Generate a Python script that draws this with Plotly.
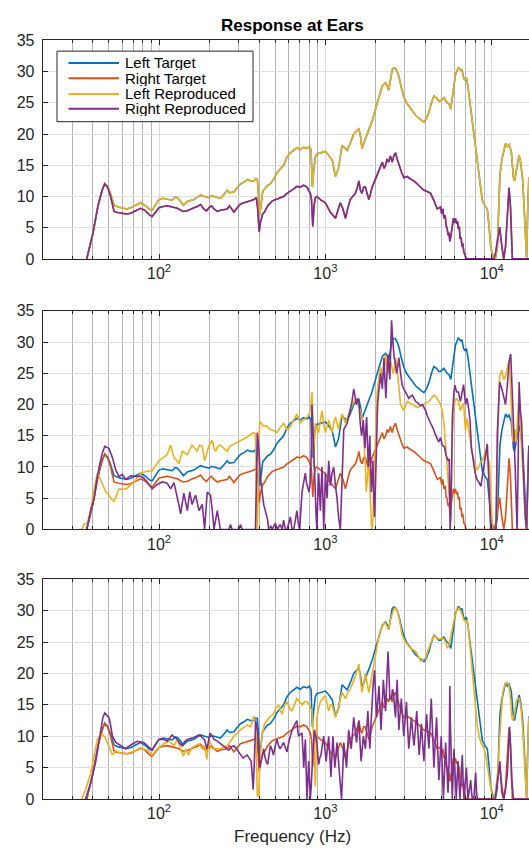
import math
import plotly.graph_objects as go

# ---------------------------------------------------------------------------
# Frequency responses at the ears, (frequency in Hz, level in dB)
# ---------------------------------------------------------------------------
left_target = [
    (36.8, 0.0), (40, 4.0), (43, 8.5), (45.5, 11.0), (47.2, 12.1), (49, 11.6), (51, 10.5),
    (53.7, 8.6), (57, 8.3), (60, 8.2), (64, 8.0), (67.6, 8.2), (72, 8.6), (77.5, 9.0),
    (82, 8.6), (88, 7.9), (91, 7.8), (96, 8.8), (100, 9.5), (106, 9.7), (112, 9.6), (120, 9.4),
    (125, 9.9), (129, 9.8), (135, 9.2), (140, 8.6), (148, 9.2), (155, 9.3), (162, 9.5),
    (170, 9.9), (178, 10.2), (188, 10.0), (200, 9.8), (207, 10.1), (214, 10.0), (224, 9.8),
    (234, 9.7), (245, 10.3), (257, 11.0), (265, 10.6), (282, 10.7), (295, 11.4), (309, 12.0),
    (324, 12.3), (339, 12.7), (355, 12.5), (372, 12.5), (382, 12.9), (390, 12.8), (396, 10.5),
    (402, 7.0), (410, 8.5), (420, 10.8), (431, 11.2), (450, 11.8), (467, 12.0), (490, 12.8),
    (512, 13.8), (535, 14.3), (561, 15.0), (588, 16.3), (616, 17.0), (645, 17.4), (674, 17.8),
    (706, 17.5), (740, 17.9), (775, 17.7), (800, 18.0), (820, 17.5), (835, 11.5), (850, 14.0),
    (870, 16.3), (890, 16.8), (933, 17.0), (1000, 17.2), (1047, 16.6), (1100, 15.8),
    (1150, 13.2), (1200, 14.5), (1260, 18.2), (1300, 17.8), (1350, 17.4), (1410, 18.5),
    (1480, 20.0), (1540, 20.5), (1590, 20.8), (1630, 19.5), (1660, 17.7), (1700, 18.5),
    (1780, 20.0), (1850, 21.0), (1910, 22.1), (2050, 25.0), (2200, 27.7), (2300, 28.2),
    (2350, 27.8), (2400, 27.0), (2460, 28.5), (2520, 30.3), (2580, 30.6), (2640, 30.5),
    (2700, 30.0), (2765, 29.2), (2860, 27.5), (2960, 26.0), (3070, 25.0), (3175, 24.5),
    (3330, 23.8), (3485, 23.0), (3700, 22.4), (3910, 21.9), (4050, 22.5), (4190, 23.5),
    (4340, 25.0), (4490, 26.1), (4650, 25.8), (4810, 25.3), (4920, 25.3), (5160, 25.8),
    (5390, 25.0), (5530, 24.8), (5670, 24.0), (5880, 27.6), (6050, 29.5), (6300, 30.7),
    (6500, 30.2), (6620, 30.3), (6770, 29.0), (6900, 28.6), (7040, 29.0), (7190, 27.6),
    (7400, 25.0), (7630, 22.4), (7900, 19.5), (8180, 16.1), (8500, 12.5), (8780, 9.3),
    (9100, 8.5), (9400, 8.0), (9650, 5.0), (9850, 2.0), (10200, 0.2), (10500, 0.0),
    (10800, 1.8), (11000, 8.0), (11200, 13.5), (11500, 15.9), (11800, 17.5), (12100, 18.5),
    (12400, 18.0), (12700, 18.3), (13100, 17.2), (13300, 15.0), (13500, 13.0), (13700, 12.5),
    (14000, 14.0), (14300, 15.5), (14600, 16.6), (14900, 15.5), (15300, 13.0), (15600, 9.0),
    (15800, 6.2), (16000, 2.0), (16200, 0.0), (16450, 8.0), (16700, 13.0), (17500, 13.0),
]

right_target = [
    (36.8, 0.0), (40, 4.0), (43, 8.5), (45.5, 11.0), (47.2, 12.0), (49, 11.5), (51, 10.2),
    (53.7, 7.6), (57, 7.4), (60, 7.3), (64, 7.2), (67.6, 7.3), (72, 7.7), (77.5, 8.1),
    (82, 7.8), (88, 7.0), (91, 6.8), (96, 7.5), (100, 8.2), (106, 8.4), (112, 8.5), (120, 8.3),
    (129, 8.1), (135, 7.8), (140, 7.6), (148, 7.7), (155, 8.0), (162, 8.2), (170, 8.4),
    (178, 8.7), (186, 8.0), (193, 7.7), (200, 8.2), (207, 8.5), (214, 8.0), (224, 7.6),
    (234, 7.8), (245, 7.9), (257, 8.0), (265, 8.5), (275, 7.9), (282, 7.5), (295, 8.2),
    (309, 8.8), (324, 9.0), (339, 9.1), (355, 9.3), (372, 9.5), (385, 9.8), (392, 8.0),
    (400, 4.3), (408, 6.0), (420, 7.2), (431, 7.5), (450, 8.5), (480, 9.3), (512, 9.6),
    (535, 9.8), (561, 10.0), (588, 10.5), (616, 10.8), (645, 11.2), (674, 11.6), (706, 11.5),
    (740, 11.8), (775, 11.5), (812, 10.5), (825, 9.5), (840, 5.2), (855, 8.5), (870, 9.8),
    (890, 10.0), (933, 9.5), (1000, 9.0), (1035, 8.2), (1070, 7.5), (1110, 7.0), (1150, 6.5),
    (1190, 7.8), (1230, 9.0), (1275, 8.0), (1320, 6.5), (1360, 8.0), (1410, 9.5), (1460, 10.0),
    (1515, 10.5), (1560, 11.5), (1590, 12.5), (1625, 11.0), (1660, 10.5), (1700, 11.5),
    (1740, 11.5), (1780, 10.5), (1825, 9.5), (1870, 10.5), (1910, 11.5), (1980, 12.5),
    (2050, 13.5), (2120, 14.5), (2200, 15.5), (2250, 14.5), (2300, 15.0), (2350, 16.0),
    (2400, 15.5), (2460, 16.5), (2520, 15.5), (2580, 16.5), (2640, 17.0), (2700, 16.0),
    (2765, 15.0), (2860, 14.0), (2960, 13.0), (3100, 13.2), (3250, 12.8), (3400, 12.5),
    (3570, 12.0), (3740, 11.5), (3910, 11.0), (4100, 10.8), (4290, 10.5), (4500, 9.3),
    (4700, 8.0), (4920, 8.3), (5000, 7.2), (5080, 8.0), (5160, 6.5), (5250, 7.0), (5320, 5.2),
    (5390, 5.0), (5460, 3.8), (5530, 4.2), (5600, 2.8), (5670, 3.5), (5740, 4.5), (5800, 5.5),
    (5880, 6.5), (5950, 5.8), (6050, 6.5), (6150, 5.6), (6230, 6.0), (6300, 4.8), (6380, 5.2),
    (6450, 3.2), (6540, 3.5), (6620, 2.0), (6700, 2.5), (6800, 1.0), (6900, 0.8), (7000, 0.0),
    (10300, 0.0), (10550, 1.0), (10800, 2.5), (11150, 5.1), (11500, 2.0), (11800, 0.0),
    (12100, 2.0), (12400, 7.0), (12700, 11.4), (12950, 8.5), (13150, 3.0), (13300, 0.0),
    (17500, 0.0),
]

# System A (middle panel)
left_reproduced_a = [
    (34.3, 0.0), (35.5, 0.9), (37, 0.9), (38.8, 3.0), (40.5, 6.0), (42.6, 9.0), (44.5, 8.0),
    (46, 7.0), (48, 6.0), (50, 5.5), (52, 4.8), (53.7, 4.5), (55.5, 5.5), (57.5, 6.5),
    (61, 6.4), (64.5, 6.6), (68, 7.2), (70.8, 7.5), (74, 8.3), (77.6, 9.0), (84, 9.3),
    (91, 9.4), (96, 10.3), (100, 11.0), (106, 11.5), (112, 12.0), (117.5, 13.5), (123, 11.5),
    (128, 11.0), (132, 10.5), (138, 12.5), (143, 12.3), (148, 12.0), (153, 12.8), (158, 13.5),
    (164, 13.0), (170, 12.5), (175, 13.5), (182, 13.3), (188, 11.0), (194, 12.5), (200, 13.5),
    (209, 14.3), (214, 13.0), (219, 12.5), (226, 13.3), (234, 13.5), (245, 13.0), (257, 12.5),
    (266, 13.3), (275, 13.5), (285, 13.8), (295, 14.0), (310, 14.2), (324, 14.5), (340, 14.8),
    (355, 15.2), (370, 15.5), (380, 15.3), (386, 8.0), (390, 0.0), (394, 5.0), (398, 14.0),
    (404, 17.3), (412, 17.0), (426, 16.5), (440, 16.6), (455, 16.2), (467, 16.0), (490, 15.8),
    (512, 15.5), (535, 16.3), (561, 17.0), (588, 16.0), (616, 16.5), (645, 17.5), (674, 18.5),
    (706, 17.0), (740, 17.5), (775, 18.0), (800, 18.5), (815, 19.5), (831, 22.0), (842, 17.0),
    (850, 10.0), (860, 14.0), (870, 17.0), (890, 16.0), (912, 15.5), (933, 17.5), (955, 19.0),
    (977, 17.0), (1000, 15.5), (1024, 16.5), (1047, 17.5), (1072, 16.5), (1097, 15.5),
    (1122, 17.0), (1150, 18.0), (1175, 17.0), (1200, 16.0), (1230, 17.5), (1260, 18.5),
    (1290, 17.8), (1320, 17.0), (1350, 17.8), (1380, 18.5), (1415, 19.3), (1450, 20.0),
    (1480, 20.5), (1515, 21.0), (1550, 20.3), (1590, 19.5), (1625, 19.0), (1660, 18.0),
    (1700, 15.0), (1740, 10.0), (1760, 6.0), (1790, 8.0), (1825, 12.0), (1850, 7.0),
    (1870, 3.0), (1890, 1.0), (1910, 0.0), (1935, 2.0), (1960, 8.0), (2000, 15.0),
    (2050, 22.0), (2100, 24.5), (2150, 26.0), (2180, 25.0), (2215, 24.0), (2260, 26.0),
    (2300, 28.0), (2340, 26.0), (2380, 25.0), (2420, 26.5), (2460, 27.0), (2510, 26.0),
    (2560, 25.0), (2600, 26.0), (2640, 27.5), (2690, 26.0), (2730, 24.0), (2780, 22.0),
    (2830, 20.0), (2900, 19.5), (2960, 19.0), (3030, 19.8), (3100, 20.5), (3200, 20.3),
    (3330, 20.0), (3450, 19.8), (3570, 19.5), (3740, 19.8), (3910, 20.0), (4050, 20.3),
    (4190, 20.5), (4340, 21.0), (4490, 21.5), (4600, 21.3), (4700, 21.0), (4810, 20.5),
    (4930, 20.0), (5040, 19.0), (5160, 17.0), (5200, 15.8), (5300, 13.5), (5390, 11.0),
    (5530, 6.0), (5670, 2.0), (5740, 8.0), (5800, 15.0), (5900, 19.0), (6000, 20.5),
    (6150, 21.0), (6300, 20.5), (6480, 19.0), (6620, 19.8), (6770, 20.2), (6950, 15.8),
    (7100, 17.8), (7250, 16.0), (7400, 14.0), (7600, 12.5), (7750, 11.5), (8000, 10.0),
    (8180, 9.5), (8400, 10.2), (8600, 10.8), (8780, 11.0), (9000, 11.8), (9200, 12.7),
    (9450, 11.5), (9700, 10.5), (9900, 5.0), (10100, 0.0), (10600, 0.0), (10700, 6.0),
    (10800, 12.0), (11000, 20.0), (11150, 24.5), (11500, 25.5), (11800, 24.0), (12100, 24.5),
    (12400, 26.0), (12700, 27.0), (12900, 24.0), (13100, 18.5), (13400, 14.0), (13800, 16.0),
    (14050, 14.0), (14300, 18.0), (14600, 22.0), (14850, 17.0), (15100, 13.5), (15350, 9.0),
    (15600, 5.0), (15900, 2.0), (16200, 0.0), (16450, 7.0), (16700, 13.4), (17500, 12.0),
]

right_reproduced_a = [
    (36.8, 0.0), (38.8, 3.0), (40.8, 5.0), (42, 7.5), (43.7, 10.0), (45.7, 12.3), (47.2, 13.3),
    (50, 13.0), (52.5, 11.5), (55, 9.5), (57.5, 8.5), (60.3, 8.8), (63, 8.0), (67.6, 8.6),
    (72.4, 8.5), (77.6, 8.5), (81, 8.2), (85, 7.6), (91, 6.5), (97.7, 7.2), (104.7, 7.6),
    (112, 7.4), (117.5, 6.5), (123, 7.5), (129, 5.0), (135, 2.5), (141, 5.8), (148, 3.0),
    (153, 6.0), (158, 4.0), (166, 5.5), (174, 3.0), (182, 4.0), (188, 0.0), (195, 6.0),
    (204, 5.5), (209, 3.0), (214, 0.0), (224, 3.0), (234, 0.0), (263, 0.0), (269, 0.8),
    (275, 0.0), (302, 0.0), (309, 0.8), (316, 0.0), (380, 0.0), (386, 8.0), (390, 15.5),
    (398, 13.0), (408, 8.0), (426, 4.0), (440, 2.5), (450, 1.5), (456, 0.0), (470, 0.5),
    (480, 0.0), (500, 1.0), (515, 0.0), (535, 0.8), (550, 0.0), (561, 1.5), (575, 0.0),
    (588, 0.0), (602, 1.0), (616, 2.0), (630, 0.0), (645, 0.0), (660, 1.5), (674, 3.0),
    (688, 1.0), (700, 0.0), (712, 3.0), (724, 6.0), (740, 7.5), (758, 9.0), (770, 7.5),
    (783, 6.5), (797, 6.0), (812, 7.5), (822, 12.0), (831, 20.0), (840, 17.0), (850, 15.0),
    (860, 10.0), (870, 6.0), (880, 2.0), (890, 0.0), (900, 5.0), (912, 9.0), (922, 6.0),
    (933, 3.0), (944, 7.0), (955, 10.0), (966, 5.0), (977, 0.0), (988, 4.0), (1000, 9.0),
    (1012, 7.0), (1024, 5.0), (1035, 8.0), (1047, 11.0), (1060, 9.0), (1072, 7.0),
    (1097, 9.0), (1122, 10.0), (1150, 7.0), (1175, 5.0), (1200, 2.0), (1230, 0.0),
    (1245, 4.0), (1260, 8.0), (1275, 12.0), (1290, 16.0), (1320, 16.5), (1350, 17.0),
    (1380, 18.0), (1410, 19.0), (1445, 20.5), (1480, 22.5), (1510, 21.0), (1540, 20.0),
    (1565, 21.0), (1590, 20.5), (1620, 17.0), (1650, 15.0), (1670, 16.0), (1690, 17.5),
    (1710, 15.0), (1730, 13.0), (1750, 16.0), (1770, 18.0), (1790, 14.0), (1810, 10.0),
    (1830, 12.0), (1850, 15.0), (1870, 10.0), (1890, 6.0), (1910, 8.0), (1930, 11.0),
    (1950, 6.0), (1975, 2.0), (2000, 7.0), (2020, 12.0), (2040, 16.0), (2060, 20.0),
    (2100, 22.5), (2150, 25.0), (2175, 23.5), (2200, 22.5), (2225, 25.0), (2250, 27.5),
    (2280, 24.0), (2310, 21.0), (2340, 24.5), (2380, 28.0), (2410, 26.0), (2440, 24.0),
    (2470, 29.0), (2500, 33.5), (2530, 31.0), (2560, 28.0), (2590, 27.5), (2620, 27.0),
    (2650, 26.0), (2680, 25.0), (2720, 26.0), (2765, 27.5), (2830, 25.0), (2900, 23.0),
    (2960, 22.5), (3030, 22.0), (3100, 21.5), (3175, 21.0), (3250, 21.3), (3330, 21.5),
    (3410, 21.0), (3490, 20.5), (3570, 20.3), (3660, 20.0), (3740, 19.8), (3830, 20.0),
    (3920, 19.5), (4010, 19.0), (4100, 18.2), (4190, 17.5), (4290, 17.0), (4390, 16.5),
    (4490, 15.8), (4600, 15.0), (4700, 14.5), (4810, 14.0), (4920, 14.7), (5040, 13.5),
    (5200, 13.2), (5300, 12.0), (5400, 11.5), (5460, 11.0), (5550, 11.3), (5620, 0.0),
    (5670, 2.0), (5740, 9.0), (5800, 18.2), (5930, 22.0), (6000, 23.1), (6150, 22.0),
    (6300, 22.0), (6480, 20.5), (6600, 21.5), (6770, 23.2), (6950, 20.0), (7100, 21.0),
    (7250, 19.5), (7400, 17.4), (7550, 13.0), (7750, 11.0), (7950, 9.0), (8180, 7.9),
    (8400, 7.5), (8600, 6.9), (8800, 8.5), (9000, 10.5), (9200, 12.0), (9400, 13.7),
    (9600, 8.0), (9850, 0.0), (10600, 0.0), (10700, 8.0), (10800, 15.5), (11000, 20.0),
    (11150, 23.6), (11500, 22.5), (11800, 21.0), (12100, 20.0), (12400, 23.0), (12700, 26.8),
    (13000, 28.1), (13300, 22.6), (13550, 16.0), (13800, 10.5), (14000, 4.0), (14200, 0.0),
    (14400, 10.0), (14600, 23.6), (14850, 19.0), (15100, 17.4), (15350, 12.0), (15600, 6.2),
    (15900, 2.0), (16200, 0.0), (16450, 6.0), (16700, 13.4), (17500, 13.0),
]

# System B (bottom panel)
left_reproduced_b = [
    (34.3, 0.0), (36.2, 1.5), (38.8, 4.0), (40.5, 6.5), (42.6, 9.5), (44, 10.0), (45.7, 10.3),
    (47.5, 9.8), (49, 9.0), (51, 8.0), (52.5, 7.0), (55, 7.7), (58.8, 7.3), (64.5, 7.2),
    (70.8, 7.6), (77.6, 8.0), (85, 7.8), (91, 7.0), (97.7, 8.0), (107, 8.8), (115, 9.2),
    (123, 8.5), (129, 9.5), (135, 8.0), (140, 6.8), (145, 8.0), (150, 7.0), (158, 8.2),
    (166, 8.5), (174, 8.8), (182, 8.0), (188, 8.5), (194, 6.3), (200, 9.5), (209, 8.0),
    (219, 8.0), (234, 8.0), (257, 8.5), (282, 10.0), (309, 11.0), (339, 11.8), (355, 11.5),
    (372, 13.2), (381, 12.0), (386, 5.0), (390, 0.3), (398, 1.0), (404, 6.0), (415, 10.0),
    (431, 12.0), (460, 13.0), (486, 13.5), (505, 14.5), (522, 15.0), (548, 13.5), (570, 15.0),
    (587, 15.5), (610, 14.5), (630, 14.0), (650, 15.0), (674, 16.0), (700, 15.5), (725, 15.0),
    (750, 15.5), (775, 15.5), (800, 15.0), (831, 14.0), (850, 10.0), (860, 6.0), (870, 2.0),
    (880, 8.0), (890, 13.0), (910, 14.5), (933, 15.5), (965, 16.0), (1000, 16.5), (1025, 15.0),
    (1047, 14.0), (1070, 15.0), (1097, 15.0), (1125, 14.0), (1150, 13.0), (1175, 14.0),
    (1200, 14.5), (1230, 16.0), (1260, 17.0), (1290, 16.5), (1320, 16.0), (1365, 17.0),
    (1410, 17.5), (1460, 18.5), (1515, 19.5), (1550, 20.5), (1590, 21.5), (1625, 19.0),
    (1660, 17.0), (1700, 18.5), (1740, 20.0), (1780, 18.5), (1825, 17.0), (1870, 18.5),
    (1910, 20.0), (1950, 21.5), (2000, 23.0), (2050, 24.5), (2100, 26.0), (2150, 27.0),
    (2200, 27.5), (2250, 28.0), (2300, 28.0), (2350, 27.5), (2400, 27.0), (2460, 28.5),
    (2520, 29.5), (2580, 30.3), (2640, 30.5), (2700, 30.0), (2765, 29.0), (2830, 27.5),
    (2900, 26.0), (2960, 25.5), (3030, 25.0), (3140, 24.5), (3250, 24.0), (3370, 23.8),
    (3490, 23.5), (3610, 22.8), (3740, 22.0), (3870, 22.2), (4010, 22.5), (4150, 23.8),
    (4290, 25.0), (4390, 25.5), (4490, 26.0), (4650, 25.8), (4810, 25.5), (4980, 25.6),
    (5160, 25.5), (5280, 25.0), (5400, 24.0), (5530, 24.5), (5660, 26.0), (5800, 27.5),
    (5930, 28.5), (6070, 29.5), (6200, 30.5), (6350, 30.3), (6500, 30.0), (6650, 29.3),
    (6810, 28.5), (6970, 28.3), (7140, 28.5), (7300, 26.0), (7470, 23.0), (7650, 20.0),
    (7830, 17.0), (8000, 14.0), (8200, 11.5), (8400, 10.0), (8590, 9.0), (8800, 8.5),
    (9000, 8.0), (9200, 7.0), (9420, 5.0), (9650, 3.0), (9880, 1.0), (10100, 0.0),
    (10400, 0.0), (10600, 1.5), (10850, 4.0), (11100, 9.0), (11370, 14.0), (11650, 17.0),
    (11920, 18.0), (12150, 18.5), (12380, 18.5), (12700, 18.0), (12970, 16.0), (13200, 13.0),
    (13400, 12.5), (13700, 13.5), (14000, 15.5), (14300, 16.0), (14660, 16.0), (15000, 14.5),
    (15360, 11.0), (15700, 6.0), (16060, 1.0), (16200, 0.0), (16450, 8.0), (16700, 13.0),
    (17500, 12.0),
]

right_reproduced_b = [
    (36.2, 0.0), (38.8, 2.5), (41.7, 6.0), (43.5, 9.0), (44.7, 11.5), (46, 13.0), (47.2, 13.7),
    (50, 13.0), (51, 12.0), (52.5, 10.0), (55, 9.0), (58.8, 8.5), (63, 8.0), (67.6, 8.6),
    (74, 9.2), (81, 9.0), (86, 8.3), (91, 7.8), (95, 8.7), (100, 9.5), (107, 9.5), (112, 9.2),
    (120, 10.2), (124, 9.8), (129, 9.5), (133, 8.9), (138, 8.5), (143, 9.2), (148, 9.5),
    (155, 9.6), (162, 9.8), (168, 10.0), (174, 10.2), (182, 9.8), (188, 9.4), (194, 8.0),
    (198, 9.3), (203, 10.5), (209, 10.0), (214, 9.5), (222, 9.3), (229, 9.0), (237, 8.8),
    (245, 8.5), (254, 8.0), (263, 7.8), (272, 8.3), (282, 8.5), (292, 8.0), (302, 7.5),
    (311, 7.0), (320, 6.5), (330, 6.8), (339, 7.0), (348, 6.5), (358, 6.0), (363, 4.0),
    (368, 1.5), (373, 5.0), (377, 10.0), (381, 12.5), (390, 11.0), (397, 8.0), (404, 5.0),
    (415, 6.5), (426, 8.0), (431, 7.0), (440, 6.0), (450, 5.5), (458, 7.0), (467, 8.5),
    (476, 8.0), (487, 7.0), (500, 8.5), (512, 9.5), (523, 8.5), (535, 8.0), (548, 8.5),
    (561, 9.0), (575, 8.2), (588, 7.5), (602, 9.0), (616, 10.0), (630, 11.0), (645, 11.5),
    (660, 12.0), (674, 12.5), (682, 11.0), (690, 10.0), (706, 10.3), (724, 10.5), (732, 8.0),
    (741, 5.0), (750, 7.5), (758, 9.5), (766, 5.0), (775, 0.0), (785, 3.0), (794, 6.0),
    (803, 3.0), (812, 0.0), (822, 2.0), (831, 5.0), (845, 8.5), (860, 11.0), (875, 10.0),
    (890, 9.0), (900, 7.0), (912, 5.5), (925, 6.5), (940, 7.0), (958, 8.5), (977, 10.0),
    (993, 8.0), (1010, 6.0), (1028, 8.0), (1047, 10.0), (1063, 7.0), (1080, 3.5), (1095, 7.0),
    (1110, 10.0), (1125, 7.5), (1140, 5.0), (1157, 7.0), (1175, 9.0), (1195, 6.5), (1215, 4.0),
    (1235, 1.5), (1250, 0.0), (1270, 4.0), (1290, 9.0), (1315, 7.0), (1340, 5.0), (1360, 8.0),
    (1380, 11.0), (1405, 9.5), (1430, 8.0), (1455, 10.5), (1480, 13.0), (1510, 11.0),
    (1540, 9.0), (1565, 11.0), (1590, 12.5), (1615, 9.0), (1640, 6.0), (1665, 8.0),
    (1690, 10.0), (1715, 9.0), (1740, 8.0), (1770, 11.0), (1800, 14.0), (1825, 11.0),
    (1850, 8.0), (1880, 12.0), (1910, 16.5), (1940, 18.5), (1975, 20.5), (2000, 17.0),
    (2030, 13.0), (2065, 15.5), (2100, 18.0), (2130, 14.5), (2160, 11.0), (2195, 15.0),
    (2230, 19.0), (2265, 16.5), (2300, 14.0), (2340, 19.0), (2380, 23.5), (2410, 20.0),
    (2440, 16.0), (2470, 16.0), (2500, 16.0), (2530, 17.5), (2560, 17.0), (2600, 15.0),
    (2640, 13.0), (2670, 16.0), (2700, 19.0), (2730, 15.0), (2765, 11.0), (2810, 13.5),
    (2860, 16.0), (2910, 13.0), (2960, 10.0), (3010, 12.5), (3070, 15.5), (3120, 11.5),
    (3170, 8.0), (3230, 10.5), (3290, 13.0), (3350, 10.5), (3410, 8.5), (3470, 11.0),
    (3540, 14.0), (3600, 10.5), (3660, 7.0), (3720, 9.5), (3780, 12.0), (3840, 9.0),
    (3910, 6.0), (3980, 10.0), (4060, 13.5), (4120, 10.5), (4190, 8.0), (4260, 12.0),
    (4330, 16.0), (4410, 10.5), (4490, 5.0), (4570, 9.0), (4660, 13.0), (4730, 8.0),
    (4810, 3.0), (4890, 6.5), (4970, 10.0), (5040, 5.0), (5120, 0.0), (5200, 4.5), (5280, 9.0),
    (5370, 5.0), (5460, 1.0), (5540, 6.0), (5600, 18.0), (5640, 12.0), (5700, 6.0),
    (5790, 0.0), (5860, 4.0), (5930, 8.0), (6020, 4.0), (6120, 0.0), (6190, 3.0), (6270, 6.0),
    (6350, 3.0), (6440, 0.0), (6550, 3.5), (6650, 7.0), (6730, 3.0), (6810, 0.0), (6920, 2.5),
    (7040, 5.0), (7120, 2.0), (7200, 0.0), (7330, 1.5), (7470, 3.0), (7560, 1.0), (7650, 0.0),
    (7800, 0.0), (7900, 2.0), (8000, 4.2), (8100, 1.0), (8200, 0.0), (10500, 0.0),
    (10700, 1.5), (10850, 3.0), (11000, 4.5), (11200, 6.0), (11350, 3.5), (11500, 1.0),
    (11800, 0.0), (12100, 1.5), (12400, 4.0), (12600, 7.5), (12800, 11.5), (13000, 8.0),
    (13200, 3.0), (13500, 0.0), (17500, 0.0),
]

series_names = ["Left Target", "Right Target", "Left Reproduced", "Right Reproduced"]
series_colors = ["#0072BD", "#D95319", "#EDB120", "#7E2F8E"]

# one row of curves per panel, in drawing order
panels = [
    [left_target, right_target, left_target, right_target],
    [left_target, right_target, left_reproduced_a, right_reproduced_a],
    [left_target, right_target, left_reproduced_b, right_reproduced_b],
]

decade_ticks = [100, 1000, 10000]
decade_labels = ["10<sup>2</sup>", "10<sup>3</sup>", "10<sup>4</sup>"]
minor_ticks = [m * 10 ** e for e in (1, 2, 3, 4) for m in range(2, 10)]
y_ticks = [0, 5, 10, 15, 20, 25, 30, 35]

# ---------------------------------------------------------------------------
W, H = 529, 855
FONT = "Liberation Sans, Arial, Helvetica, sans-serif"
INK = "#262626"


def fx(px):
    return px / W


def fy(py):
    return 1 - py / H


# panel frames in pixels (top, bottom)
frames = [(33, 256), (309, 532), (583, 807)]
x_left_px = 42.7

fig = go.Figure()
layout = dict(
    width=W, height=H,
    margin=dict(l=0, r=0, t=0, b=0),
    paper_bgcolor="white", plot_bgcolor="white",
    showlegend=False,
    font=dict(family=FONT, color=INK),
)

for i, curves in enumerate(panels):
    n = "" if i == 0 else str(i + 1)
    for data, name, color in zip(curves, series_names, series_colors):
        fig.add_trace(go.Scatter(
            x=[p[0] for p in data], y=[p[1] for p in data],
            mode="lines", name=name,
            line=dict(color=color, width=1.6),
            xaxis="x" + n, yaxis="y" + n,
        ))
    top, bottom = frames[i]
    layout["xaxis" + n] = dict(
        type="log",
        range=[math.log10(20), 4.2238],
        domain=[fx(x_left_px), 1.0],
        anchor="y" + n,
        tickmode="array", tickvals=decade_ticks, ticktext=decade_labels,
        ticks="inside", ticklen=5, tickcolor=INK, tickwidth=1,
        showgrid=True, gridcolor="#dcdcdc", gridwidth=1,
        minor=dict(tickmode="array", tickvals=minor_ticks, showgrid=True,
                   gridcolor="#b4b4b4", gridwidth=1.3,
                   ticks="inside", ticklen=3, tickcolor=INK),
        showline=True, linecolor=INK, linewidth=1, mirror="allticks",
        tickfont=dict(size=16, family=FONT, color=INK),
        zeroline=False, fixedrange=True,
    )
    layout["yaxis" + n] = dict(
        range=[0, 35], domain=[fy(bottom), fy(top)],
        anchor="x" + n,
        tickmode="array", tickvals=y_ticks,
        ticks="inside", ticklen=5, tickcolor=INK,
        showgrid=True, gridcolor="#dedede", gridwidth=1,
        showline=True, linecolor=INK, linewidth=1, mirror=False,
        tickfont=dict(size=16, family=FONT, color=INK),
        ticklabelstandoff=4,
        zeroline=False, fixedrange=True,
    )

annotations = [
    dict(text="<b>Response at Ears</b>", x=fx(292), y=fy(18), xref="paper", yref="paper",
         xanchor="center", yanchor="middle", showarrow=False,
         font=dict(size=17, family=FONT, color="black")),
    dict(text="Frequency (Hz)", x=fx(292), y=fy(845), xref="paper", yref="paper",
         xanchor="center", yanchor="middle", showarrow=False,
         font=dict(size=17, family=FONT, color=INK)),
]

# legend box in the top panel
shapes = [dict(type="rect", xref="paper", yref="paper",
               x0=fx(57), x1=fx(253), y0=fy(116), y1=fy(44),
               fillcolor="white", line=dict(color=INK, width=1), layer="above")]
row_y = [56, 71.7, 87.7, 102.7]
for name, color, ry in zip(series_names, series_colors, row_y):
    shapes.append(dict(type="line", xref="paper", yref="paper",
                       x0=fx(68.5), x1=fx(119), y0=fy(ry), y1=fy(ry),
                       line=dict(color=color, width=2), layer="above"))
    annotations.append(dict(text=name, x=fx(123), y=fy(ry), xref="paper", yref="paper",
                            xanchor="left", yanchor="middle", showarrow=False,
                            height=15, valign="middle",
                            font=dict(size=15, family=FONT, color="black")))

layout["annotations"] = annotations
layout["shapes"] = shapes
fig.update_layout(**layout)
fig.write_html("out.html")
